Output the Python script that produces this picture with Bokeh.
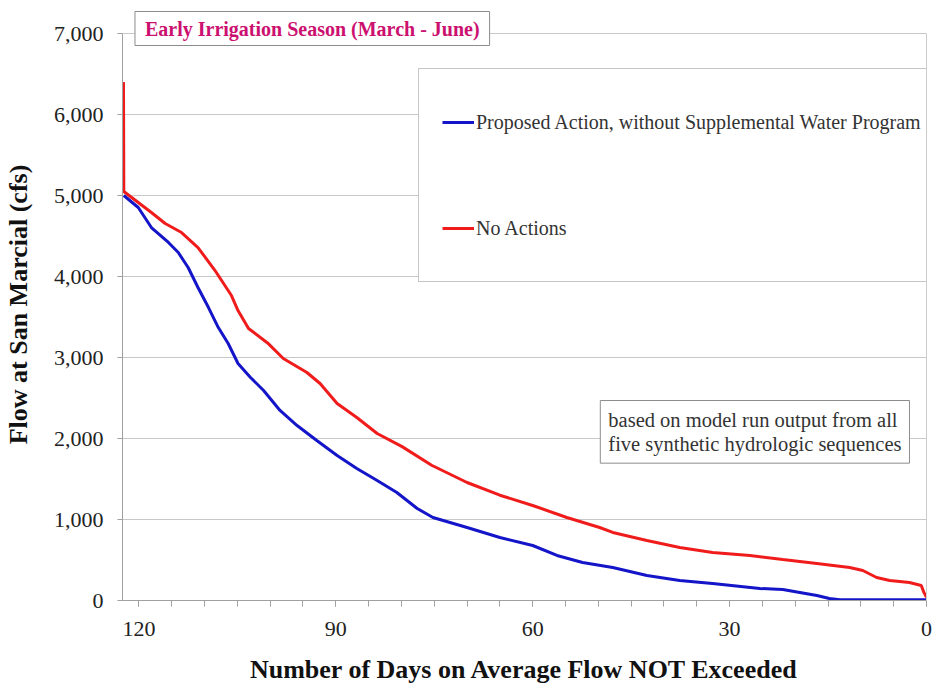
from bokeh.plotting import figure
from bokeh.models import (Range1d, FixedTicker, NumeralTickFormatter, Legend, LegendItem, Label, LinearAxis)
from bokeh.embed import file_html
from bokeh.resources import INLINE

# ---- data ----
proposed_days = [122.3, 120.1, 118.1, 115.5, 114.0, 112.5, 111.0, 109.4, 107.9, 106.4,
                 104.9, 103.0, 101.0, 98.5, 95.9, 92.9, 89.8, 86.8, 83.7, 80.7,
                 77.6, 75.2, 70.0, 65.0, 60.0, 56.3, 52.4, 47.8, 42.6, 37.6,
                 32.6, 25.4, 21.9, 16.7, 14.8, 13.2, 0.0]
proposed_flow = [5000, 4852, 4605, 4420, 4296, 4111, 3864, 3617, 3370, 3173,
                 2926, 2753, 2593, 2346, 2160, 1975, 1790, 1630, 1481, 1333,
                 1136, 1025, 901, 778, 679, 556, 469, 407, 309, 247,
                 210, 148, 136, 62, 25, 10, 10]

noaction_days = [122.35, 122.3, 120.1, 118.1, 116.0, 113.5, 111.0, 108.4, 105.9, 104.9,
                 103.3, 100.4, 98.0, 94.4, 92.4, 89.8, 86.8, 83.7, 79.9, 75.4,
                 70.0, 65.0, 60.0, 54.8, 49.8, 47.8, 42.6, 37.6, 32.6, 26.9,
                 21.9, 16.7, 11.7, 9.7, 7.6, 5.6, 2.6, 0.8, 0.4, 0.0]
noaction_flow = [6400, 5050, 4914, 4790, 4654, 4543, 4358, 4074, 3765, 3580,
                 3358, 3180, 2988, 2815, 2679, 2432, 2259, 2062, 1900, 1670,
                 1457, 1300, 1173, 1025, 901, 840, 741, 654, 593, 556,
                 506, 457, 407, 370, 284, 247, 222, 185, 100, 40]

y_ticks = [0, 1000, 2000, 3000, 4000, 5000, 6000, 7000]
x_ticks = [0, 30, 60, 90, 120]
x_minor_ticks = list(range(0, 121, 5))

series_names = ["Proposed Action, without Supplemental Water Program", "No Actions"]
title_text = "Early Irrigation Season (March - June)"
note_text = "based on model run output from all\nfive synthetic hydrologic sequences"

SERIF = "'Liberation Serif', 'Times New Roman', serif"
Y_MAX = 7000
Y_TOP = 7309  # extra room above 7,000 so the title box sits inside the frame

p = figure(width=937, height=690, output_backend="svg", toolbar_location=None,
           x_range=Range1d(122.5, 0), y_range=Range1d(0, Y_TOP),
           min_border_left=122, min_border_right=11, min_border_top=8, min_border_bottom=90)
p.background_fill_color = "white"
p.border_fill_color = "white"
p.outline_line_color = None

# axes
p.yaxis.ticker = FixedTicker(ticks=y_ticks)
p.yaxis.formatter = NumeralTickFormatter(format="0,0")
p.yaxis.bounds = (0, Y_MAX)
p.xaxis.ticker = FixedTicker(ticks=x_ticks, minor_ticks=x_minor_ticks)
for ax in (p.xaxis[0], p.yaxis[0]):
    ax.axis_line_color = "#a0a0a0"
    ax.major_tick_line_color = "#a0a0a0"
    ax.minor_tick_line_color = "#a0a0a0"
    ax.major_tick_in = 0
    ax.minor_tick_in = 0
    ax.major_label_text_font = SERIF
    ax.major_label_text_font_size = "22px"
    ax.major_label_text_color = "#222222"
    ax.axis_label_text_font = SERIF
    ax.axis_label_text_font_style = "bold"
    ax.axis_label_text_color = "#111111"
p.yaxis.major_tick_out = 5
p.yaxis.minor_tick_out = 0
p.yaxis.major_label_standoff = 14
p.yaxis.axis_label = "Flow at San Marcial (cfs)"
p.yaxis.axis_label_text_font_size = "26px"
p.yaxis.axis_label_standoff = 18
p.xaxis.major_tick_out = 6
p.xaxis.minor_tick_out = 6
p.xaxis.major_label_standoff = 15
p.xaxis.axis_label = "Number of Days on Average Flow NOT Exceeded"
p.xaxis.axis_label_text_font_size = "26px"
p.xaxis.axis_label_standoff = 16

# right-hand border of the plot area (0 to 7,000 only)
right_edge = LinearAxis(bounds=(0, Y_MAX), ticker=FixedTicker(ticks=[]),
                        axis_line_color="#cccccc", major_tick_out=0, major_tick_in=0,
                        minor_tick_out=0, minor_tick_in=0,
                        major_label_text_font_size="0px", major_label_standoff=0)
p.add_layout(right_edge, "right")

p.xgrid.visible = False
p.ygrid.grid_line_color = "#c8c8c8"
p.ygrid.grid_line_width = 1

r_prop = p.line(proposed_days, proposed_flow, line_color="#1414c8", line_width=3)
r_no = p.line(noaction_days, noaction_flow, line_color="#f01c1c", line_width=3)

legend = Legend(items=[LegendItem(label=series_names[0], renderers=[r_prop]),
                       LegendItem(label=series_names[1], renderers=[r_no])],
                location=(296, 318), orientation="vertical",
                padding=23, spacing=46, label_height=60, glyph_height=60, glyph_width=32,
                label_standoff=2, margin=0,
                label_text_font=SERIF, label_text_font_size="20px", label_text_color="#333333",
                border_line_color="#8c8c8c", border_line_width=1,
                background_fill_color="white", background_fill_alpha=1.0)
p.add_layout(legend)

title = Label(x=120.6, y=7062, text=title_text, anchor="center_left",
              text_font=SERIF, text_font_size="20px", text_font_style="bold",
              text_color="#cc1070", padding=(10, 6),
              border_line_color="#8c8c8c", border_line_width=1,
              background_fill_color="white", background_fill_alpha=1.0)
p.add_layout(title)

note = Label(x=49.7, y=2469, text=note_text, anchor="top_left",
             text_font=SERIF, text_font_size="20.5px", text_color="#333333",
             text_line_height=1.12, padding=8,
             border_line_color="#8c8c8c", border_line_width=1,
             background_fill_color="white", background_fill_alpha=1.0)
p.add_layout(note)

open("out.html", "w").write(file_html(p, INLINE))
